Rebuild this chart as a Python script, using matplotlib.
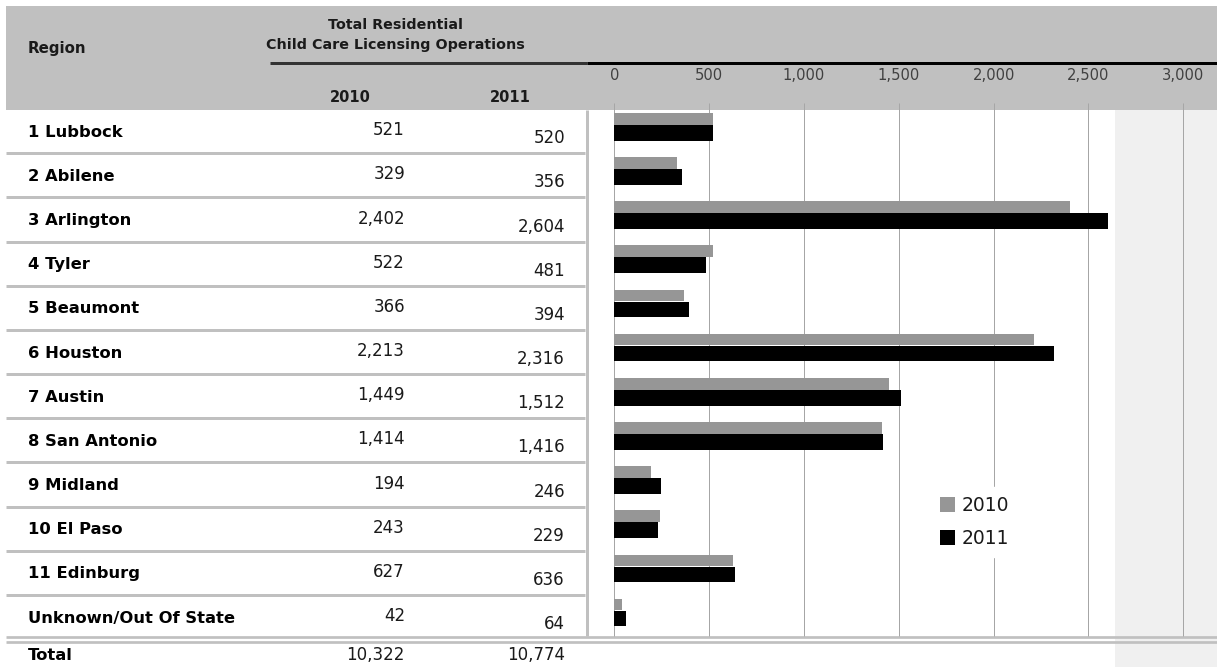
import matplotlib
matplotlib.use("Agg")
import matplotlib.pyplot as plt
from matplotlib.patches import Rectangle

# ---------------------------
# DATOS
# ---------------------------

regiones = [
    "1 Lubbock", "2 Abilene", "3 Arlington", "4 Tyler", "5 Beaumont",
    "6 Houston", "7 Austin", "8 San Antonio", "9 Midland", "10 El Paso",
    "11 Edinburg", "Unknown/Out Of State",
]
valores_2010 = [521, 329, 2402, 522, 366, 2213, 1449, 1414, 194, 243, 627, 42]
valores_2011 = [520, 356, 2604, 481, 394, 2316, 1512, 1416, 246, 229, 636, 64]
total_2010 = 10322
total_2011 = 10774
ticks = [0, 500, 1000, 1500, 2000, 2500, 3000]

# ---------------------------
# LAYOUT (pixeles)
# ---------------------------

W, H = 1217, 667
ROW_TOP = 109.1
PITCH = 44.17
N = len(regiones)
X0, X3000 = 614.3, 1183.3

GRIS_HEAD = "#c0c0c0"
GRIS_LINEA = "#c0c0c0"
GRIS_2010 = "#969696"
FONT = "DejaVu Sans"
PX = 72 / 100  # px -> pt

fig = plt.figure(figsize=(W / 100, H / 100), dpi=100)

# fondo en coordenadas de pixel
bg = fig.add_axes([0, 0, 1, 1])
bg.set_xlim(0, W)
bg.set_ylim(H, 0)
bg.axis("off")

bg.add_patch(Rectangle((6, 6), W - 6, 104, color=GRIS_HEAD, lw=0))
bg.add_patch(Rectangle((1115, 110), W - 1115, H - 110, color="#f0f0f0", lw=0))

bg.plot([270, 587], [63, 63], color="#333333", lw=3 * PX, solid_capstyle="butt")
bg.plot([587, W], [63, 63], color="black", lw=3 * PX, solid_capstyle="butt")

for k in range(1, N):
    y = ROW_TOP + k * PITCH
    bg.plot([6, 585], [y, y], color=GRIS_LINEA, lw=3 * PX, solid_capstyle="butt")
bg.plot([587.3, 587.3], [110, 636], color=GRIS_LINEA, lw=3 * PX, solid_capstyle="butt")
for y in [636.7, 641.7]:
    bg.plot([6, W], [y, y], color=GRIS_LINEA, lw=2.7 * PX, solid_capstyle="butt")

# encabezados
bg.text(28, 49, "Region", fontsize=10.8, fontweight="bold", family=FONT,
        ha="left", va="center", color="#1a1a1a")
bg.text(395, 25, "Total Residential", fontsize=10.3, fontweight="bold",
        family=FONT, ha="center", va="center", color="#1a1a1a")
bg.text(395, 45, "Child Care Licensing Operations", fontsize=10.3,
        fontweight="bold", family=FONT, ha="center", va="center", color="#1a1a1a")
bg.text(350, 97, "2010", fontsize=10.5, fontweight="bold", family=FONT,
        ha="center", va="center", color="#1a1a1a")
bg.text(510, 97, "2011", fontsize=10.5, fontweight="bold", family=FONT,
        ha="center", va="center", color="#1a1a1a")

# filas de la tabla
for i, (reg, v0, v1) in enumerate(zip(regiones, valores_2010, valores_2011)):
    yc = ROW_TOP + (i + 0.5) * PITCH
    bg.text(28, yc + 1, reg, fontsize=11.8, fontweight="bold", family=FONT,
            ha="left", va="center", color="black")
    bg.text(405, yc - 1, f"{v0:,}", fontsize=12, family=FONT,
            ha="right", va="center", color="#1a1a1a")
    bg.text(565, yc + 7, f"{v1:,}", fontsize=12, family=FONT,
            ha="right", va="center", color="#1a1a1a")

bg.text(28, 655, "Total", fontsize=11.8, fontweight="bold", family=FONT,
        ha="left", va="center", color="black")
bg.text(405, 655, f"{total_2010:,}", fontsize=12, family=FONT,
        ha="right", va="center", color="#1a1a1a")
bg.text(565, 655, f"{total_2011:,}", fontsize=12, family=FONT,
        ha="right", va="center", color="#1a1a1a")

# ---------------------------
# GRAFICO DE BARRAS
# ---------------------------

top_px = ROW_TOP
bot_px = ROW_TOP + N * PITCH
ax = fig.add_axes([X0 / W, 1 - bot_px / H, (X3000 - X0) / W, (bot_px - top_px) / H])
ax.patch.set_visible(False)
ax.set_xlim(0, 3000)
ax.set_ylim(N - 0.5, -0.5)

pos = list(range(N))
g_off = -12.5 / PITCH
b_off = 1.5 / PITCH
b2010 = ax.barh([p + g_off for p in pos], valores_2010, height=11.7 / PITCH,
                color=GRIS_2010, lw=0, label="2010", zorder=3)
b2011 = ax.barh([p + b_off for p in pos], valores_2011, height=15.7 / PITCH,
                color="black", lw=0, label="2011", zorder=3)

y_arriba = -0.5 - 6 / PITCH
y_abajo = N - 0.5 - 3 / PITCH
ax.vlines(ticks, y_arriba, y_abajo, color="#a6a6a6", lw=1 * PX, zorder=1, clip_on=False)

for s in ax.spines.values():
    s.set_visible(False)
ax.set_yticks([])
ax.xaxis.tick_top()
ax.set_xticks(ticks)
ax.set_xticklabels([f"{t:,}" for t in ticks])
ax.tick_params(axis="x", length=0, pad=19, labelsize=10.6, labelcolor="#404040")
for lbl in ax.get_xticklabels():
    lbl.set_family(FONT)

leg = ax.legend(handles=[b2010, b2011], loc="center",
                bbox_to_anchor=(975 / W, 1 - 522 / H), bbox_transform=fig.transFigure,
                frameon=True, fancybox=False, facecolor="white", edgecolor="white",
                framealpha=1, prop={"family": FONT, "size": 13.5},
                handlelength=0.8, handleheight=0.8, handletextpad=0.35,
                labelspacing=0.75, borderpad=0.5)
leg.set_zorder(5)
for t in leg.get_texts():
    t.set_color("#1a1a1a")

fig.savefig("out.png", dpi=100)
